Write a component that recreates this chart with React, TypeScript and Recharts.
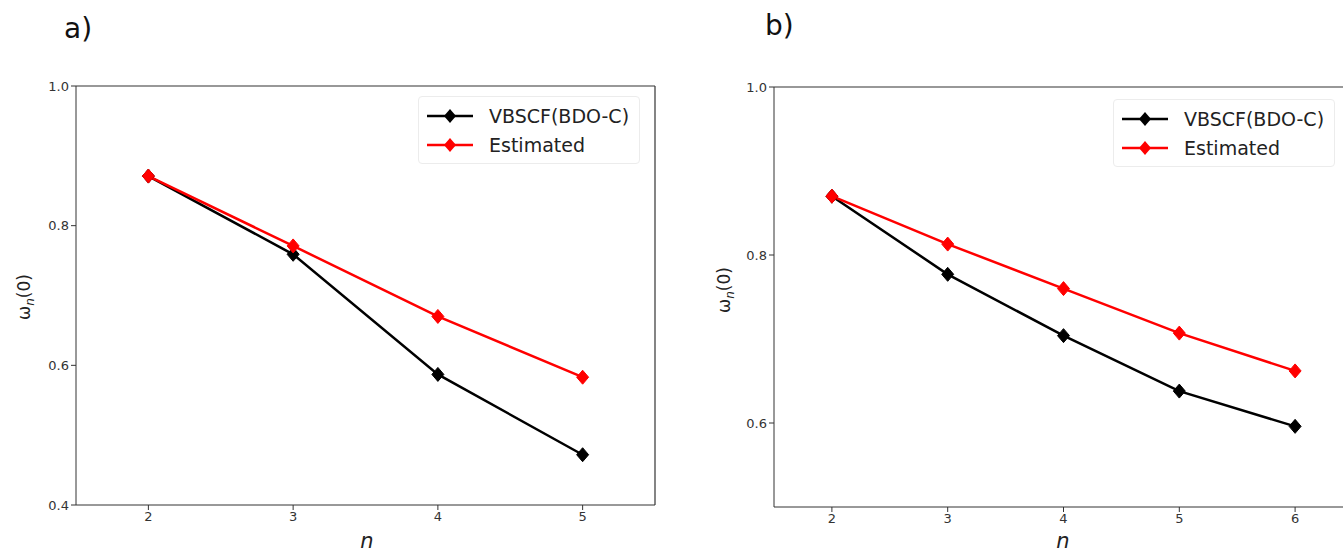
import { LineChart, Line, XAxis, YAxis, ReferenceLine } from "recharts";

const nA = [2, 3, 4, 5];
const vbscfA = [0.871, 0.759, 0.587, 0.472];
const estA = [0.871, 0.771, 0.67, 0.583];

const nB = [2, 3, 4, 5, 6];
const vbscfB = [0.87, 0.777, 0.704, 0.638, 0.596];
const estB = [0.87, 0.813, 0.76, 0.707, 0.662];

const yTicksA = [0.4, 0.6, 0.8, 1.0];
const yTicksB = [0.6, 0.8, 1.0];

const FONT = "'DejaVu Sans', sans-serif";

const Diamond = (props: any) => {
  const { cx, cy, stroke } = props;
  if (cx == null || cy == null) return null;
  return (
    <path
      d={`M${cx},${cy - 7} L${cx + 6},${cy} L${cx},${cy + 7} L${cx - 6},${cy} Z`}
      fill={stroke}
      stroke={stroke}
      strokeWidth={1}
    />
  );
};

function LegendBox({ left, top }: { left: number; top: number }) {
  const row = (color: string, label: string) => (
    <div style={{ display: "flex", alignItems: "center", height: 29 }}>
      <svg width={50} height={16} style={{ marginRight: 14 }}>
        <line x1={2} y1={8} x2={48} y2={8} stroke={color} strokeWidth={2.5} />
        <path d="M25,1 L31,8 L25,15 L19,8 Z" fill={color} />
      </svg>
      <span style={{ fontFamily: FONT, fontSize: 19, color: "#222" }}>{label}</span>
    </div>
  );
  return (
    <div
      style={{
        position: "absolute",
        left,
        top,
        padding: "4px 10px 4px 6px",
        border: "1px solid #ececec",
        borderRadius: 4,
        background: "#fff",
      }}
    >
      {row("#000", "VBSCF(BDO-C)")}
      {row("#ff0000", "Estimated")}
    </div>
  );
}

function YLabel({ cx, cy }: { cx: number; cy: number }) {
  return (
    <div
      style={{
        position: "absolute",
        left: cx - 40,
        top: cy - 12,
        width: 80,
        height: 24,
        textAlign: "center",
        transform: "rotate(-90deg)",
        fontFamily: FONT,
        fontSize: 17,
        lineHeight: "24px",
        color: "#222",
      }}
    >
      ω<sub style={{ fontSize: 12, fontStyle: "italic" }}>n</sub>(0)
    </div>
  );
}

function XLabel({ cx, top }: { cx: number; top: number }) {
  return (
    <div
      style={{
        position: "absolute",
        left: cx - 10,
        top,
        width: 20,
        textAlign: "center",
        fontFamily: FONT,
        fontSize: 21,
        lineHeight: "22px",
        fontStyle: "italic",
        color: "#222",
      }}
    >
      n
    </div>
  );
}

function Panel(props: {
  n: number[];
  vb: number[];
  est: number[];
  xDomain: [number, number];
  yDomain: [number, number];
  yTicks: number[];
  width: number;
  margin: { top: number; right: number; bottom: number; left: number };
}) {
  const data = props.n.map((n, i) => ({ n, vb: props.vb[i], est: props.est[i] }));
  const tickStyle = { fontFamily: FONT, fontSize: 13, fill: "#333" };
  return (
    <LineChart width={props.width} height={554} data={data} margin={props.margin}>
      <XAxis
        dataKey="n"
        type="number"
        domain={props.xDomain}
        ticks={props.n}
        allowDataOverflow
        height={30}
        stroke="#333"
        tick={tickStyle}
        tickSize={5}
      />
      <YAxis
        type="number"
        domain={props.yDomain}
        ticks={props.yTicks}
        tickFormatter={(v: number) => v.toFixed(1)}
        allowDataOverflow
        width={40}
        stroke="#333"
        tick={tickStyle}
        tickSize={5}
      />
      <ReferenceLine y={props.yDomain[1]} stroke="#333" strokeWidth={1.2} />
      <ReferenceLine x={props.xDomain[1]} stroke="#333" strokeWidth={1.2} />
      <Line dataKey="vb" stroke="#000" strokeWidth={2.5} dot={<Diamond />} isAnimationActive={false} />
      <Line dataKey="est" stroke="#ff0000" strokeWidth={2.5} dot={<Diamond />} isAnimationActive={false} />
    </LineChart>
  );
}

export default function App() {
  return (
    <div style={{ position: "absolute", left: 0, top: 0, width: 1343, height: 554, overflow: "hidden", background: "#fff" }}>
      <div style={{ position: "absolute", left: 0, top: 0 }}>
        <Panel
          n={nA}
          vb={vbscfA}
          est={estA}
          xDomain={[1.5, 5.5]}
          yDomain={[0.4, 1.0]}
          yTicks={yTicksA}
          width={700}
          margin={{ top: 86, right: 45, bottom: 19, left: 36 }}
        />
      </div>
      <div style={{ position: "absolute", left: 700, top: 0 }}>
        <Panel
          n={nB}
          vb={vbscfB}
          est={estB}
          xDomain={[1.5, 6.5]}
          yDomain={[0.5, 1.0]}
          yTicks={yTicksB}
          width={700}
          margin={{ top: 87, right: 47, bottom: 17, left: 34 }}
        />
      </div>
      <div style={{ position: "absolute", left: 64, top: 12, fontFamily: FONT, fontSize: 28, color: "#111" }}>a)</div>
      <div style={{ position: "absolute", left: 765, top: 9, fontFamily: FONT, fontSize: 28, color: "#111" }}>b)</div>
      <YLabel cx={24} cy={297} />
      <YLabel cx={724} cy={290} />
      <XLabel cx={367} top={530} />
      <XLabel cx={1063} top={530} />
      <LegendBox left={418} top={96} />
      <LegendBox left={1113} top={99} />
    </div>
  );
}
